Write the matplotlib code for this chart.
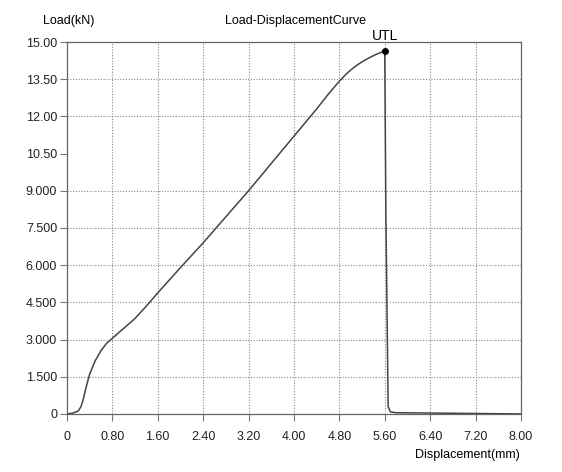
import matplotlib
matplotlib.use('Agg')
import matplotlib.pyplot as plt

plt.rcParams['font.family'] = 'Liberation Sans'
plt.rcParams['font.size'] = 9

# curva carga x deslocamento
desloc = [0, 0.1, 0.2, 0.25, 0.29, 0.33, 0.4, 0.5, 0.6, 0.7, 0.8, 0.9, 1.0,
          1.2, 1.4, 1.6, 2.0, 2.4, 2.8, 3.2, 3.6, 4.0, 4.4, 4.6, 4.7, 4.8,
          4.9, 5.0, 5.1, 5.2, 5.3, 5.4, 5.5, 5.6,
          5.62, 5.66, 5.7, 5.8, 8.0]
carga = [0, 0.03, 0.12, 0.3, 0.6, 1.0, 1.6, 2.15, 2.55, 2.85, 3.05, 3.25, 3.45,
         3.85, 4.35, 4.88, 5.9, 6.9, 7.95, 9.0, 10.1, 11.2, 12.3, 12.88, 13.15, 13.42,
         13.66, 13.87, 14.05, 14.2, 14.33, 14.45, 14.55, 14.63,
         8.0, 0.3, 0.08, 0.05, 0.0]
utl_x = 5.6
utl_y = 14.63

x_ticks = [0, 0.8, 1.6, 2.4, 3.2, 4.0, 4.8, 5.6, 6.4, 7.2, 8.0]
x_labels = ['0', '0.80', '1.60', '2.40', '3.20', '4.00', '4.80', '5.60', '6.40', '7.20', '8.00']
y_ticks = [0, 1.5, 3.0, 4.5, 6.0, 7.5, 9.0, 10.5, 12.0, 13.5, 15.0]
y_labels = ['0', '1.500', '3.000', '4.500', '6.000', '7.500', '9.000', '10.50', '12.00', '13.50', '15.00']

fig = plt.figure(figsize=(5.62, 4.72), dpi=100)
ax = fig.add_axes([0.119, 0.123, 0.808, 0.788])

# grade pontilhada (sem linha em 10.50, como no original)
for xt in x_ticks[1:-1]:
    ax.axvline(xt, color='#8a8a8a', linestyle=(0, (1, 1.5)), linewidth=0.8, zorder=1)
for yt in y_ticks[1:-1]:
    if yt == 10.5:
        continue
    ax.axhline(yt, color='#8a8a8a', linestyle=(0, (1, 1.5)), linewidth=0.8, zorder=1)

ax.plot(desloc, carga, color='#444444', linewidth=1.1, zorder=3)
ax.plot(utl_x, utl_y, 'o', color='black', markersize=4, zorder=4)
ax.text(utl_x, 14.95, 'UTL', ha='center', va='bottom', fontsize=10)

ax.set_xlim(0, 8.0)
ax.set_ylim(0, 15.0)
ax.set_xticks(x_ticks)
ax.set_xticklabels(x_labels)
ax.set_yticks(y_ticks)
ax.set_yticklabels(y_labels)
ax.tick_params(length=5, width=0.8, color='#777777', labelcolor='#222222')
ax.tick_params(axis='x', pad=7)
ax.tick_params(axis='y', pad=2)

for s in ax.spines.values():
    s.set_color('#666666')
    s.set_linewidth(0.9)

fig.text(0.077, 0.955, 'Load(kN)', ha='left', va='center', fontsize=9)
fig.text(0.525, 0.955, 'Load-DisplacementCurve', ha='center', va='center', fontsize=9)
fig.text(0.925, 0.036, 'Displacement(mm)', ha='right', va='center', fontsize=9)

plt.savefig('out.png', dpi=100)
